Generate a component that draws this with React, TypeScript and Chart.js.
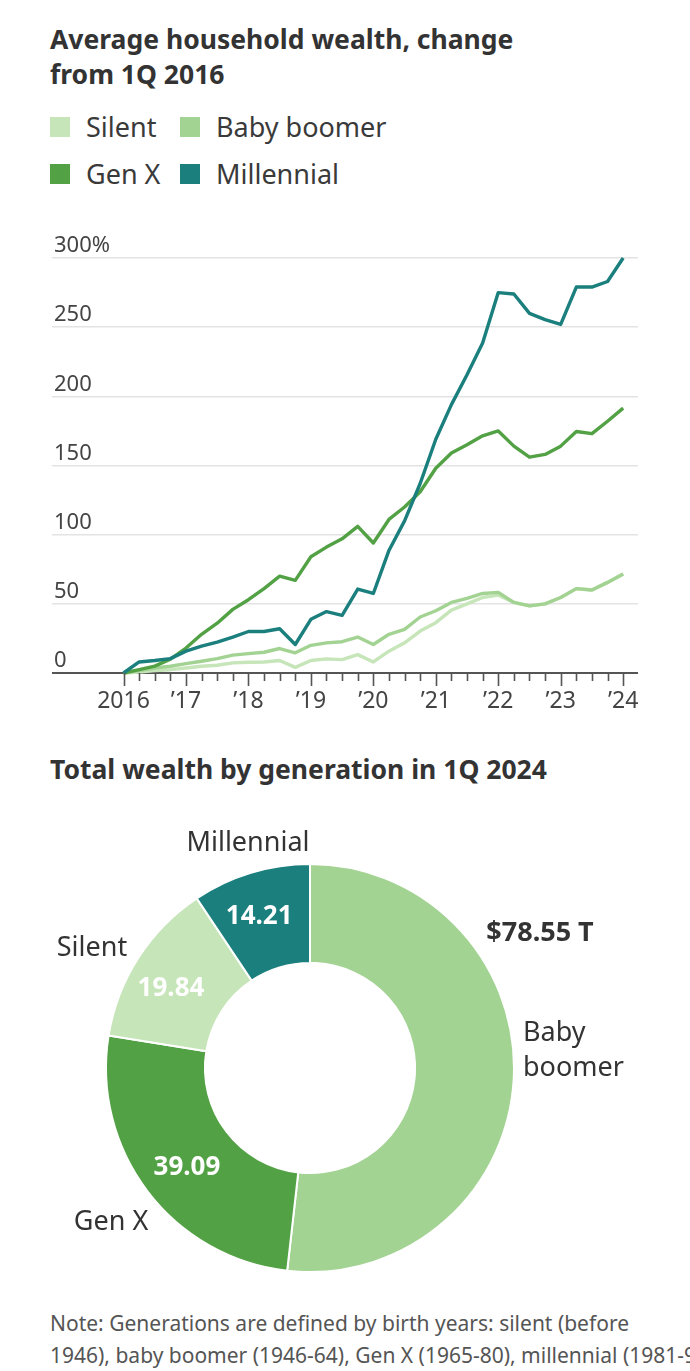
import React, { useEffect, useRef } from "react";
import { Chart, registerables } from "chart.js";
Chart.register(...registerables);

// ---------- Data ----------
const quarterLabels = [
  "1Q16","2Q16","3Q16","4Q16","1Q17","2Q17","3Q17","4Q17","1Q18","2Q18","3Q18","4Q18",
  "1Q19","2Q19","3Q19","4Q19","1Q20","2Q20","3Q20","4Q20","1Q21","2Q21","3Q21","4Q21",
  "1Q22","2Q22","3Q22","4Q22","1Q23","2Q23","3Q23","4Q23","1Q24",
];
const yearTickLabels = ["2016", "\u201917", "\u201918", "\u201919", "\u201920", "\u201921", "\u201922", "\u201923", "\u201924"];
const yTickValues = [0, 50, 100, 150, 200, 250, 300];

const silent = [0,0.7,1.7,2.4,3.6,4.9,5.6,7.3,7.8,8,9,4.1,9,10.2,9.7,13.3,8,15.8,21.8,30.3,36.4,45.4,50,54.6,56.3,51,48.5,50,54.6,61,60,65.5,71.6];
const babyBoomer = [0,1.7,3.6,4.9,6.8,8.5,10.4,12.9,14,15,17.7,14.6,20,21.8,22.6,26,20.6,28,31.5,40.5,45,51,54,57.5,58.3,51,48.5,50,54.6,61,60,65.5,71.6];
const genX = [0,2.4,5,10,18,28,36,46,53,61,70,67,84,91,97,106,94,111,120,131,148,159,165,171.5,175,164,156,158,164,174.6,173,182,191.5];
const millennial = [0,8,9,10.4,15.8,19.4,22.3,26,30,30,32,20.6,38.8,44.4,41.7,60.7,57.5,88.6,110,137,169,194,215.6,238.5,275,274,260,255.4,252,279,279,283,300];

const donutCategories = ["Baby boomer", "Gen X", "Silent", "Millennial"];
const donutValues = [78.55, 39.09, 19.84, 14.21];

// ---------- Styles ----------
const C_SILENT = "#c6e5b9";
const C_BOOMER = "#a3d393";
const C_GENX = "#52a144";
const C_MILL = "#1a7f7d";
const FONT = "'Noto Sans', 'DejaVu Sans', sans-serif";
const TEXT = "#333333";

const lineAxisPlugin = {
  id: "lineAxisDecor",
  afterDraw(chart: any) {
    const ctx = chart.ctx;
    const xs = chart.scales.x;
    const ys = chart.scales.y;
    const y0 = ys.getPixelForValue(0);
    ctx.save();
    ctx.strokeStyle = "#555";
    ctx.lineWidth = 1.6;
    for (let q = 0; q < quarterLabels.length; q++) {
      const x = Math.round(xs.getPixelForValue(q)) + 0.5;
      const len = q % 4 === 0 ? 13 : 8;
      ctx.beginPath();
      ctx.moveTo(x, y0);
      ctx.lineTo(x, y0 + len);
      ctx.stroke();
    }
    ctx.fillStyle = "#444";
    ctx.font = `23px ${FONT}`;
    ctx.textAlign = "center";
    ctx.textBaseline = "middle";
    yearTickLabels.forEach((lab, i) => {
      const x = xs.getPixelForValue(i * 4);
      ctx.fillText(lab, x, y0 + 28);
    });
    ctx.restore();
  },
};

const donutLabelPlugin = {
  id: "donutLabels",
  afterDraw(chart: any) {
    const ctx = chart.ctx;
    const meta = chart.getDatasetMeta(0);
    const arc0: any = meta.data[0];
    if (!arc0) return;
    const cx = arc0.x;
    const cy = arc0.y;
    ctx.save();
    ctx.textBaseline = "middle";
    // outer category labels
    ctx.fillStyle = TEXT;
    ctx.font = `27px ${FONT}`;
    ctx.textAlign = "center";
    ctx.fillText(donutCategories[3], cx - 62, cy - 225);
    ctx.fillText(donutCategories[2], cx - 218, cy - 120);
    ctx.fillText(donutCategories[1], cx - 199, cy + 154);
    ctx.textAlign = "left";
    const bb = donutCategories[0].split(" ");
    ctx.fillText(bb[0], cx + 213, cy - 35);
    ctx.fillText(bb[1], cx + 213, cy);
    // boomer value
    ctx.font = `bold 27px ${FONT}`;
    ctx.textAlign = "center";
    ctx.fillText(`$${donutValues[0].toFixed(2)} T`, cx + 230, cy - 135);
    // inner values
    ctx.font = `bold 26px ${FONT}`;
    const offsets: Record<number, [number, number]> = { 1: [0, 6], 2: [-9, 4], 3: [-6, -4] };
    ctx.fillStyle = "#ffffff";
    for (let i = 1; i < donutValues.length; i++) {
      const el: any = meta.data[i];
      const p = el.getCenterPoint();
      const o = offsets[i];
      ctx.fillText(donutValues[i].toFixed(2), p.x + o[0], p.y + o[1]);
    }
    ctx.restore();
  },
};

function LineChart() {
  const ref = useRef<HTMLCanvasElement | null>(null);
  useEffect(() => {
    if (!ref.current) return;
    const mk = (label: string, data: number[], color: string) => ({
      label,
      data: data.map((v, i) => ({ x: i, y: v })),
      borderColor: color,
      backgroundColor: color,
      borderWidth: 3.4,
      pointRadius: 0,
      tension: 0,
      clip: false as any,
      borderJoinStyle: "round" as const,
    });
    const chart = new Chart(ref.current, {
      type: "line",
      data: {
        labels: quarterLabels,
        datasets: [
          mk("Millennial", millennial, C_MILL),
          mk("Gen X", genX, C_GENX),
          mk("Baby boomer", babyBoomer, C_BOOMER),
          mk("Silent", silent, C_SILENT),
        ],
      },
      options: {
        animation: false,
        responsive: false,
        maintainAspectRatio: false,
        layout: { padding: { left: 48, right: 52, top: 33, bottom: 48 } },
        plugins: { legend: { display: false }, tooltip: { enabled: false } },
        scales: {
          x: { type: "linear", display: false, min: -4.58, max: 32.95 },
          y: {
            min: 0,
            max: 300,
            afterBuildTicks: (s: any) => {
              s.ticks = yTickValues.map((v) => ({ value: v }));
            },
            border: { display: false },
            grid: {
              drawTicks: false,
              color: (c: any) => (c.tick && c.tick.value === 0 ? "#555" : "#e3e3e3"),
              lineWidth: (c: any) => (c.tick && c.tick.value === 0 ? 2 : 1.6),
            },
            ticks: {
              mirror: true,
              padding: 2,
              labelOffset: -12,
              color: "#444",
              font: { family: FONT, size: 22 },
              callback: (v: any) => (v === 300 ? "300%" : String(v)),
            },
          },
        },
      },
      plugins: [lineAxisPlugin],
    });
    return () => chart.destroy();
  }, []);
  return <canvas ref={ref} width={690} height={496} style={{ position: "absolute", left: 0, top: 225, width: 690, height: 496 }} />;
}

function DonutChart() {
  const ref = useRef<HTMLCanvasElement | null>(null);
  useEffect(() => {
    if (!ref.current) return;
    const chart = new Chart(ref.current, {
      type: "doughnut",
      data: {
        labels: donutCategories,
        datasets: [
          {
            data: donutValues,
            backgroundColor: [C_BOOMER, C_GENX, C_SILENT, C_MILL],
            borderColor: "#ffffff",
            borderWidth: 2,
          },
        ],
      },
      options: {
        animation: false,
        responsive: false,
        maintainAspectRatio: false,
        cutout: "51.5%",
        layout: { padding: { left: 105, right: 175, top: 63, bottom: 27 } },
        plugins: { legend: { display: false }, tooltip: { enabled: false } },
      },
      plugins: [donutLabelPlugin],
    });
    return () => chart.destroy();
  }, []);
  return <canvas ref={ref} width={690} height={500} style={{ position: "absolute", left: 0, top: 800, width: 690, height: 500 }} />;
}

const legendItems: [string, string, number, number][] = [
  ["Silent", C_SILENT, 50, 117],
  ["Baby boomer", C_BOOMER, 180, 117],
  ["Gen X", C_GENX, 50, 164],
  ["Millennial", C_MILL, 180, 164],
];

export default function App() {
  useEffect(() => {
    document.body.style.margin = "0";
  }, []);
  return (
    <div style={{ position: "relative", width: 690, height: 1371, overflow: "hidden", background: "#fff", fontFamily: FONT, color: TEXT }}>
      <div style={{ position: "absolute", left: 50, top: 22, fontSize: 26.5, fontWeight: 700, lineHeight: "35px" }}>
        Average household wealth, change
        <br />
        from 1Q 2016
      </div>
      {legendItems.map(([name, color, x, y]) => (
        <div key={name} style={{ position: "absolute", left: x, top: y, height: 20, display: "flex", alignItems: "center" }}>
          <div style={{ width: 20, height: 20, background: color }} />
          <div style={{ marginLeft: 16, fontSize: 27, lineHeight: "20px", color: "#3a3a3a" }}>{name}</div>
        </div>
      ))}
      <LineChart />
      <div style={{ position: "absolute", left: 50, top: 752, fontSize: 26.5, fontWeight: 700, lineHeight: "35px" }}>
        Total wealth by generation in 1Q 2024
      </div>
      <DonutChart />
      <div style={{ position: "absolute", left: 50, top: 1307, fontSize: 21, lineHeight: "32px", color: "#555", whiteSpace: "nowrap" }}>
        Note: Generations are defined by birth years: silent (before
        <br />
        1946), baby boomer (1946-64), Gen X (1965-80), millennial (1981-96).
      </div>
    </div>
  );
}
